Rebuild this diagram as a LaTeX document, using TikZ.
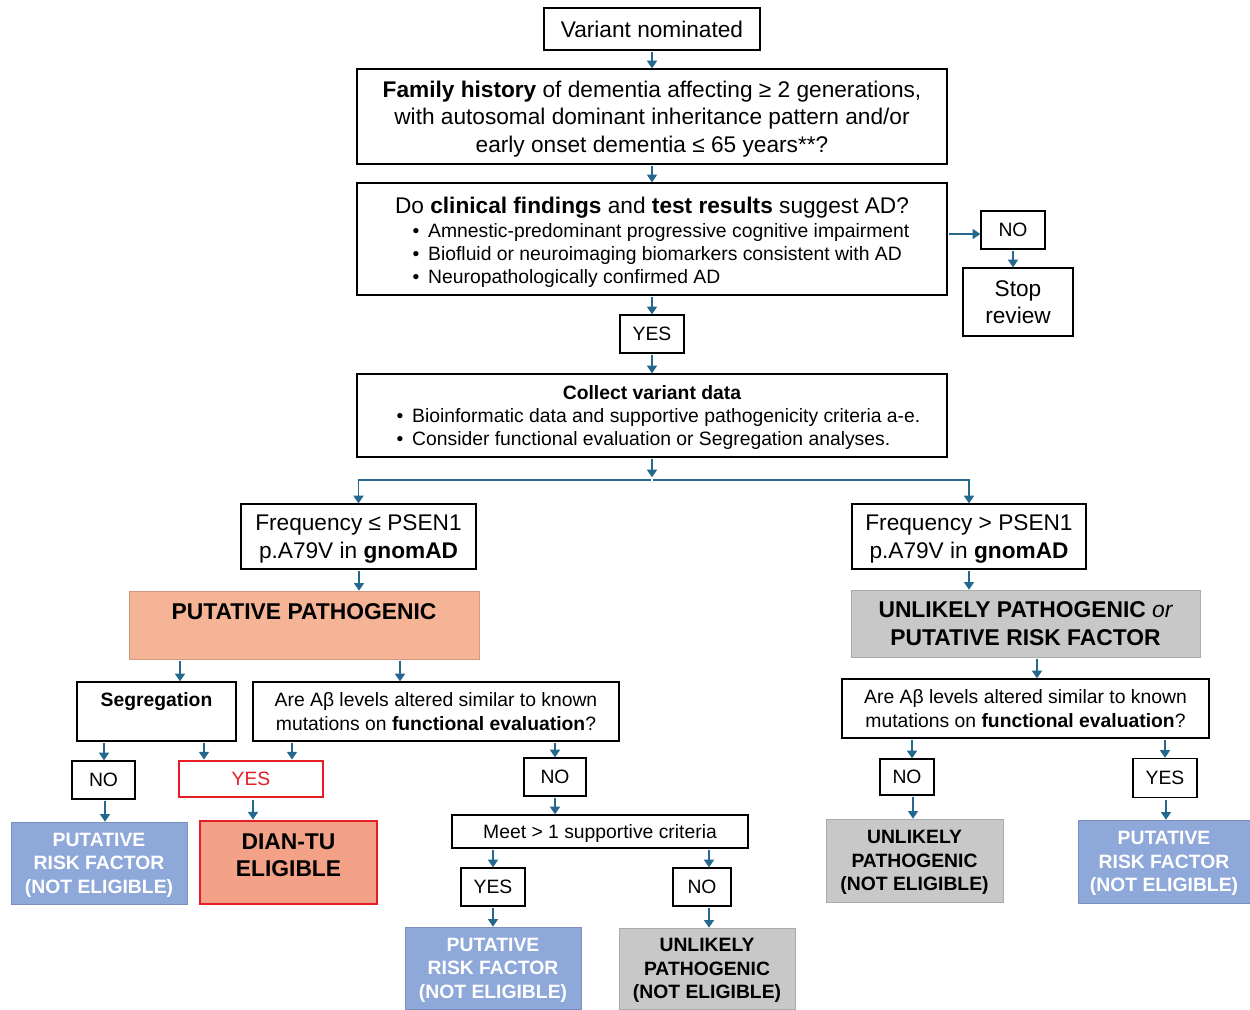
\documentclass[tikz,border=0pt]{standalone}
\usepackage{fontspec}
\setmainfont{Liberation Sans}
\usetikzlibrary{arrows.meta}
\definecolor{flowblue}{RGB}{36,104,142}
\definecolor{riskblue}{RGB}{143,168,218}
\definecolor{unlgray}{RGB}{200,200,200}
\definecolor{ppfill}{RGB}{246,180,150}
\definecolor{dianfill}{RGB}{243,162,136}
\definecolor{alertred}{RGB}{228,30,36}
\begin{document}
\begin{tikzpicture}
		[x=0.02cm, y=-0.02cm,
		box/.style={draw, line width=0.7pt, inner sep=0pt, align=center, text depth=0pt, font=\fontsize{12.9}{15.6}\selectfont},
		small box/.style={box, font=\fontsize{11}{13.2}\selectfont},
		dims/.style 2 args={minimum width=#1*0.02cm, minimum height=#2*0.02cm},
		outcome/.style={inner sep=0pt, align=center, text depth=0pt, font=\fontsize{11}{13.3}\selectfont\bfseries},
		risk/.style={outcome, fill=riskblue, draw=riskblue!85!black, line width=0.3pt, text=white},
		unlikely/.style={outcome, fill=unlgray, draw=unlgray!85!black, line width=0.3pt},
		heading/.style={draw=#1!85!black, line width=0.3pt, fill=#1, inner sep=0pt, align=center, text depth=0pt, font=\fontsize{13}{15.8}\selectfont\bfseries},
		red box/.style={draw=alertred, line width=1.6pt},
		flow/.style={draw=flowblue, line width=1.1pt, -{Triangle[width=5.6pt,length=4.4pt]}, shorten <=0.8pt}]
		\useasboundingbox (0,0) rectangle (1250,1009);

		\node[box, dims={216}{42}] (start) at (652,29) {Variant nominated};
		\node[box, dims={590}{95}] (family) at (652,116.5) {\textbf{Family history} of dementia affecting ≥ 2 generations,\\with autosomal dominant inheritance pattern and/or\\early onset dementia ≤ 65 years**?};
		\node[box, dims={590}{112}] (clinical) at (652,239) {};
		\node[box, draw=none] (clinicalhead) at (652,205) {Do \textbf{clinical findings} and \textbf{test results} suggest AD?};
		\node[small box, draw=none, anchor=west, align=left] (clinicallist) at (412,253.5) {\textbullet\hspace{5pt}Amnestic-predominant progressive cognitive impairment\\\textbullet\hspace{5pt}Biofluid or neuroimaging biomarkers consistent with AD\\\textbullet\hspace{5pt}Neuropathologically confirmed AD};
		\node[small box, dims={64}{38}] (clinno) at (1013,230) {NO};
		\node[box, dims={110}{68}] (stop) at (1018,302) {Stop\\review};
		\node[small box, dims={64}{38}] (clinyes) at (652,334) {YES};
		\node[box, dims={590}{83}] (collect) at (652,415.5) {};
		\node[small box, draw=none] (collecthead) at (652,392) {\textbf{Collect variant data}};
		\node[small box, draw=none, anchor=west, align=left] (collectlist) at (396,427) {\textbullet\hspace{5pt}Bioinformatic data and supportive pathogenicity criteria a-e.\\\textbullet\hspace{5pt}Consider functional evaluation or Segregation analyses.};
		\coordinate (split) at (652,480);

		\node[box, dims={235}{65}] (freqlo) at (358.5,536.5) {Frequency ≤ PSEN1\\p.A79V in \textbf{gnomAD}};
		\node[box, dims={234}{65}] (freqhi) at (969,536.5) {Frequency > PSEN1\\p.A79V in \textbf{gnomAD}};
		\node[heading=ppfill, dims={350}{68}] (pp) at (304,625) {PUTATIVE PATHOGENIC\\\strut};
		\node[heading=unlgray, dims={349}{67}] (upr) at (1025.5,623.5) {UNLIKELY PATHOGENIC {\mdseries\itshape or}\\PUTATIVE RISK FACTOR};

		\node[small box, dims={159}{59}] (seg) at (156.5,711.5) {\textbf{Segregation}\\\strut};
		\node[small box, dims={366}{59}] (funclo) at (436,711.5) {Are Aβ levels altered similar to known\\mutations on \textbf{functional evaluation}?};
		\node[small box, dims={367}{59}] (funchi) at (1025.5,708.5) {Are Aβ levels altered similar to known\\mutations on \textbf{functional evaluation}?};
		\node[small box, dims={63}{38}] (segno) at (103.5,780) {NO};
		\node[small box, red box, dims={144}{36}, text=alertred] (yesred) at (251,779) {YES};
		\node[small box, dims={62}{38}] (funcno) at (555,777) {NO};
		\node[small box, dims={54}{36}] (hino) at (907,777) {NO};
		\node[small box, dims={64}{39}] (hiyes) at (1165,778) {YES};

		\node[risk, dims={176}{82}] (riska) at (99,863) {PUTATIVE\\RISK FACTOR\\(NOT ELIGIBLE)};
		\node[outcome, red box, fill=dianfill, dims={177}{83}, text depth=8pt, font=\fontsize{13}{15.5}\selectfont\bfseries] (dian) at (288.5,862.5) {DIAN-TU\\ELIGIBLE};
		\node[small box, dims={296}{33}] (meet) at (600,831.5) {Meet > 1 supportive criteria};
		\node[small box, dims={64}{38}] (meetyes) at (493,887) {YES};
		\node[small box, dims={58}{38}] (meetno) at (702,887) {NO};
		\node[risk, dims={176}{82}] (riskb) at (493,968) {PUTATIVE\\RISK FACTOR\\(NOT ELIGIBLE)};
		\node[unlikely, dims={176}{81}] (unla) at (707,968.5) {UNLIKELY\\PATHOGENIC\\(NOT ELIGIBLE)};
		\node[unlikely, dims={177}{83}] (unlb) at (914.5,860.5) {UNLIKELY\\PATHOGENIC\\(NOT ELIGIBLE)};
		\node[risk, dims={172}{83}] (riskc) at (1164,861.5) {PUTATIVE\\RISK FACTOR\\(NOT ELIGIBLE)};

		\foreach \a/\b/\x in {start/family/652, family/clinical/652, clinical/clinyes/652, clinyes/collect/652, clinno/stop/1013, freqlo/pp/359, freqhi/upr/969, pp/seg/180, pp/funclo/400, upr/funchi/1037, seg/segno/104, seg/yesred/204, funclo/yesred/292, funclo/funcno/555, segno/riska/105, yesred/dian/253, funcno/meet/555, meet/meetyes/493, meet/meetno/709, meetyes/riskb/493, meetno/unla/709, funchi/hino/912, funchi/hiyes/1165, hino/unlb/913, hiyes/riskc/1166}{
			\draw[flow] (\a.south -| \x,0) -- (\b.north -| \x,0);
		}
		\draw[flow] (clinical.east |- 0,234) -- (clinno.west |- 0,234);
		\draw[flow, shorten >=1.5pt] (collect) -- (split);
		\draw[flow] (split) -| (freqlo);
		\draw[flow] (split) -| (freqhi);
\end{tikzpicture}
\end{document}
